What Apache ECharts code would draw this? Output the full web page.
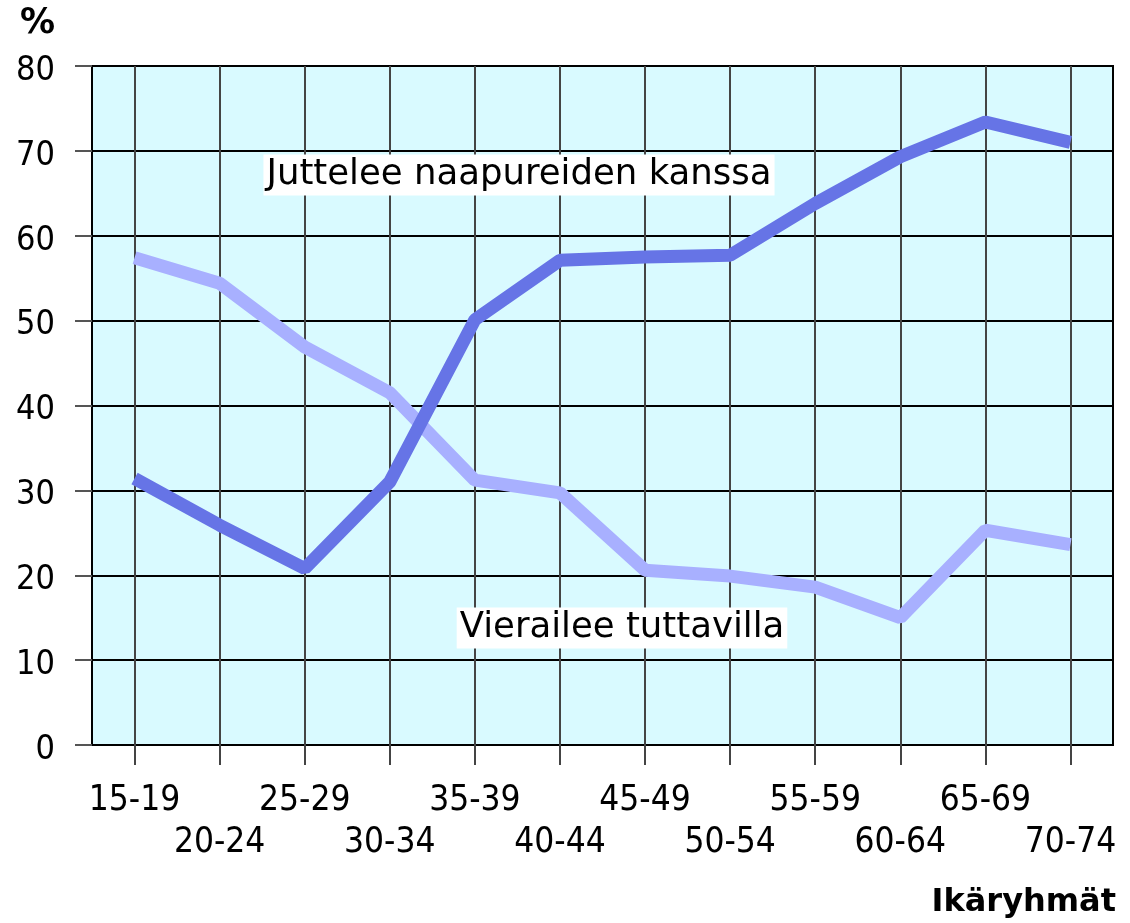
<!DOCTYPE html>
<html><head><meta charset="utf-8">
<script src="https://cdn.jsdelivr.net/npm/echarts@6/dist/echarts.min.js"></script>
<style>html,body{margin:0;padding:0;background:#fff}#c{width:1130px;height:923px}</style>
</head><body><div id="c"></div>
<script>
const categories = ['15-19','20-24','25-29','30-34','35-39','40-44','45-49','50-54','55-59','60-64','65-69','70-74'];
const juttelee = [31.4, 25.9, 20.8, 31.0, 50.1, 57.1, 57.5, 57.7, 63.8, 69.3, 73.4, 71.0];
const vierailee = [57.4, 54.4, 46.9, 41.5, 31.2, 29.7, 20.6, 19.9, 18.6, 15.0, 25.3, 23.6];
const seriesNames = ['Juttelee naapureiden kanssa', 'Vierailee tuttavilla'];
const yTicks = [0, 10, 20, 30, 40, 50, 60, 70, 80];

const FONT = '"DejaVu Sans Condensed", "Open Sans", sans-serif';
const FONT2 = '"DejaVu Sans", sans-serif';
const chart = echarts.init(document.getElementById('c'), null, {renderer: 'canvas'});
chart.setOption({
  animation: false,
  grid: {left: 92, right: 17, top: 66, bottom: 178, show: true, backgroundColor: '#d9faff', borderColor: '#000', borderWidth: 2},
  xAxis: {
    type: 'category', data: categories, boundaryGap: true,
    axisLine: {show: false},
    axisTick: {show: true, alignWithLabel: true, length: 20, lineStyle: {color: '#444', width: 2}},
    splitLine: {show: true, alignWithLabel: true, lineStyle: {color: '#444', width: 2}},
    axisLabel: {
      interval: 0, margin: 35, fontFamily: FONT, fontSize: 35, color: '#000', lineHeight: 42,
      formatter: (v, i) => (i % 2 === 1 ? '\n' + v : v)
    }
  },
  yAxis: {
    type: 'value', min: yTicks[0], max: yTicks[yTicks.length - 1], interval: 10,
    axisLine: {show: false},
    axisTick: {show: true, length: 17, lineStyle: {color: '#555', width: 2}},
    splitLine: {show: true, lineStyle: {color: '#000', width: 2}},
    axisLabel: {margin: 37, fontFamily: FONT, fontSize: 34, color: '#000', verticalAlign: 'top', lineHeight: 10}
  },
  series: [
    {name: seriesNames[0], type: 'line', data: juttelee, symbol: 'none', lineStyle: {color: '#6674e6', width: 13}, z: 3},
    {name: seriesNames[1], type: 'line', data: vierailee, symbol: 'none', lineStyle: {color: '#a8b0ff', width: 13}, z: 2}
  ],
  graphic: [
    {type: 'text', x: 20, y: 24, style: {text: '%', fontFamily: FONT2, fontWeight: 'bold', fontSize: 35, fill: '#000', verticalAlign: 'middle'}},
    {type: 'text', x: 1116, y: 903, style: {text: 'Ikäryhmät', fontFamily: FONT2, fontWeight: 'bold', fontSize: 32, fill: '#000', align: 'right', verticalAlign: 'middle'}},
    {type: 'text', x: 519, y: 175, z: 10, style: {text: seriesNames[0], fontFamily: FONT2, fontSize: 35.5, fill: '#000', align: 'center', verticalAlign: 'middle', backgroundColor: '#fff', padding: [4, 3, 1, 3]}},
    {type: 'text', x: 622, y: 628, z: 10, style: {text: seriesNames[1], fontFamily: FONT2, fontSize: 35.5, fill: '#000', align: 'center', verticalAlign: 'middle', backgroundColor: '#fff', padding: [4, 3, 1, 3]}}
  ]
});
</script></body></html>
